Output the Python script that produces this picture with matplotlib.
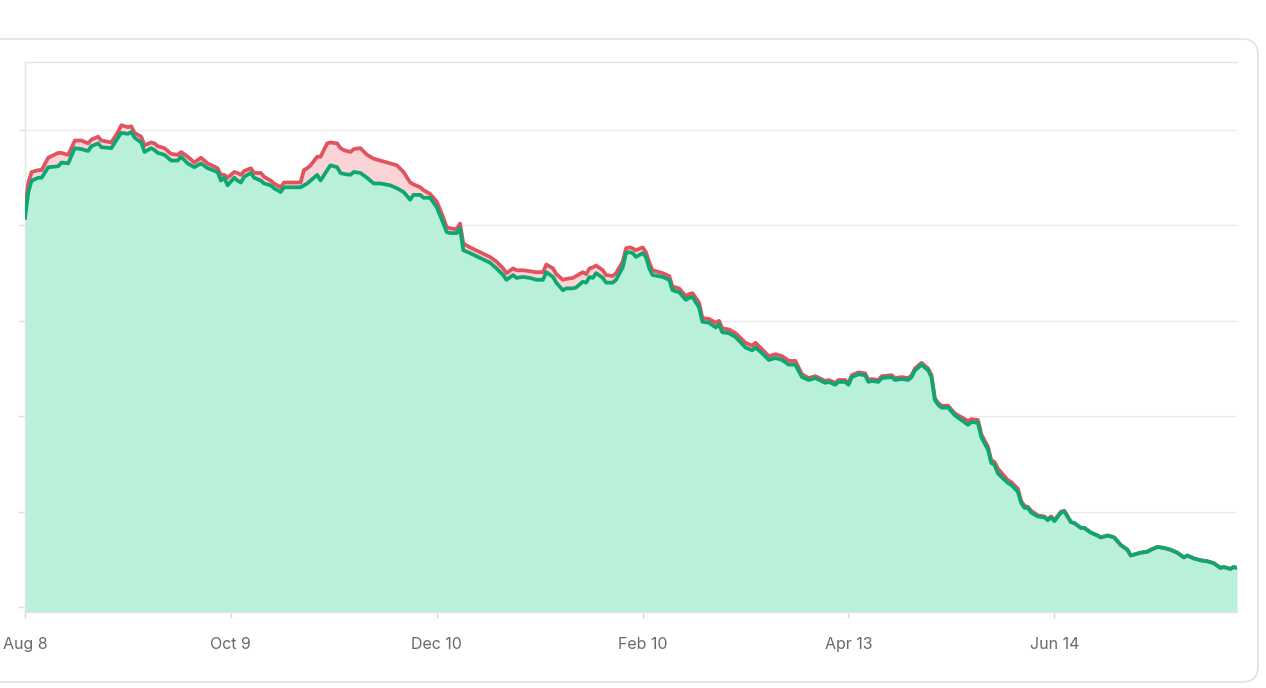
import numpy as np
import pandas as pd
import matplotlib
matplotlib.use("Agg")
import matplotlib.pyplot as plt
from matplotlib.patches import FancyBboxPatch
from matplotlib.transforms import IdentityTransform

plt.rcParams['font.family'] = ['Inter', 'DejaVu Sans']

# Datos (días desde el 8 de agosto)
start_date = "2022-08-08"
days = [0, 1, 2, 4, 5, 7, 10, 11, 13, 15, 17, 19, 20, 22, 23, 26, 28, 29, 31, 32,
        33, 35, 36, 38, 39, 40, 42, 44, 46, 47, 49, 51, 53, 55, 58, 59, 60, 61, 63, 64,
        65, 66, 68, 69, 71, 72, 74, 75, 77, 78, 80, 83, 84, 85, 86, 88, 89, 91, 92, 94,
        95, 96, 98, 99, 101, 103, 105, 107, 110, 112, 114, 116, 117, 119, 120, 122, 124, 126, 127, 128,
        130, 131, 132, 134, 137, 140, 142, 144, 145, 147, 148, 150, 152, 154, 156, 157, 159, 160, 162, 163,
        165, 166, 168, 169, 170, 171, 172, 174, 175, 177, 178, 180, 181, 182, 183, 184, 186, 187, 188, 189,
        192, 194, 195, 197, 199, 200, 201, 203, 204, 206, 208, 209, 210, 212, 214, 217, 219, 220, 222, 224,
        226, 228, 230, 232, 234, 236, 238, 241, 242, 244, 245, 247, 248, 249, 251, 253, 254, 255, 257, 258,
        261, 262, 264, 266, 267, 268, 270, 272, 273, 274, 275, 276, 278, 280, 282, 284, 285, 287, 288, 290,
        291, 292, 293, 296, 297, 299, 300, 301, 302, 303, 305, 307, 308, 309, 310, 312, 313, 315, 316, 318,
        319, 321, 323, 324, 326, 328, 330, 332, 333, 336, 338, 339, 341, 343, 345, 347, 349, 350, 352, 354,
        356, 358, 360, 361, 363, 364, 365]

green = [408, 435, 447, 450, 450, 461, 462, 466, 465, 481, 480, 478, 483, 486, 482, 481, 492, 497, 496, 498,
         492, 487, 477, 481, 479, 476, 474, 468, 468, 472, 465, 461, 465, 460, 456, 447, 450, 442, 450, 447,
         445, 451, 455, 450, 447, 444, 442, 439, 435, 440, 440, 440, 442, 444, 447, 453, 447, 458, 463, 461,
         455, 454, 453, 456, 455, 450, 444, 444, 442, 439, 435, 427, 432, 432, 429, 429, 419, 402, 393, 392,
         392, 397, 374, 371, 366, 361, 355, 348, 343, 348, 345, 346, 345, 343, 343, 351, 346, 340, 332, 334,
         334, 335, 341, 340, 346, 345, 350, 345, 340, 340, 343, 356, 371, 372, 371, 367, 371, 367, 355, 348,
         346, 343, 332, 330, 322, 324, 325, 314, 299, 298, 293, 296, 288, 287, 283, 272, 269, 272, 266, 259,
         261, 259, 254, 254, 241, 238, 240, 235, 236, 233, 236, 236, 233, 241, 244, 243, 236, 237, 236, 240,
         241, 238, 239, 238, 241, 248, 254, 248, 241, 217, 212, 209, 209, 201, 196, 191, 194, 193, 178, 165,
         151, 149, 140, 130, 128, 121, 109, 104, 104, 99, 95, 94, 91, 94, 90, 99, 100, 89, 88, 83,
         83, 78, 75, 73, 75, 73, 65, 60, 54, 57, 58, 60, 63, 62, 60, 57, 52, 54, 51, 49,
         48, 46, 41, 42, 40, 42, 41]

red = [416, 445, 456, 458, 458, 471, 476, 476, 474, 489, 489, 486, 490, 493, 489, 487, 498, 505, 503, 504,
       497, 493, 484, 487, 486, 483, 481, 475, 474, 477, 472, 466, 471, 465, 460, 453, 453, 450, 456, 455,
       453, 457, 460, 455, 455, 451, 447, 444, 440, 445, 445, 445, 458, 460, 463, 472, 472, 486, 487, 486,
       481, 479, 477, 480, 481, 474, 470, 468, 465, 463, 456, 445, 443, 440, 437, 433, 425, 408, 398, 397,
       396, 402, 381, 377, 372, 367, 362, 355, 350, 355, 353, 353, 352, 351, 351, 359, 355, 349, 343, 344,
       345, 347, 351, 349, 355, 356, 358, 353, 348, 347, 350, 362, 376, 377, 376, 374, 377, 372, 361, 353,
       350, 347, 336, 334, 326, 328, 329, 319, 303, 302, 298, 300, 292, 291, 287, 277, 274, 277, 270, 263,
       265, 263, 258, 258, 244, 240, 242, 237, 238, 235, 238, 238, 235, 243, 246, 245, 238, 239, 238, 242,
       243, 240, 241, 240, 243, 250, 256, 250, 243, 219, 214, 211, 211, 203, 199, 195, 197, 196, 181, 168,
       154, 152, 145, 133, 131, 124, 111, 106, 105, 101, 96, 95, 92, 95, 91, 100, 101, 89, 88, 83,
       83, 78, 75, 73, 75, 73, 65, 60, 54, 57, 58, 60, 63, 62, 60, 57, 52, 54, 51, 49,
       48, 46, 41, 42, 40, 42, 41]

tick_dates = ["2022-08-08", "2022-10-09", "2022-12-10", "2023-02-10", "2023-04-13", "2023-06-14"]
tick_labels = ["Aug 8", "Oct 9", "Dec 10", "Feb 10", "Apr 13", "Jun 14"]

fechas = pd.Timestamp(start_date) + pd.to_timedelta(days, unit="D")
green = np.array(green)
red = np.array(red)

y_min, y_max = -5.2, 571.3

fig = plt.figure(figsize=(12.66, 6.88), dpi=100)
fig.patch.set_facecolor("white")

# Tarjeta con bordes redondeados
card = FancyBboxPatch((-20, 6), 1278, 643, boxstyle="round,pad=0,rounding_size=16",
                      transform=IdentityTransform(), facecolor="white",
                      edgecolor="#e2e2e2", linewidth=1.2, zorder=0)
fig.add_artist(card)

ax = fig.add_axes([25 / 1266, 1 - 612 / 688, 1212 / 1266, 550 / 688])
ax.set_facecolor("none")

ax.fill_between(fechas, y_min, green, color="#b9f0d9", linewidth=0, zorder=2)
ax.fill_between(fechas, green, red, where=red >= green, color="#fcd3d6",
                linewidth=0, zorder=2, interpolate=True)
ax.plot(fechas, red, color="#e0535f", linewidth=2.7, zorder=3, solid_joinstyle="round")
ax.plot(fechas, green, color="#0ea771", linewidth=2.7, zorder=4, solid_joinstyle="round")

ax.set_xlim(pd.Timestamp(start_date), pd.Timestamp(start_date) + pd.Timedelta(days=365))
ax.set_ylim(y_min, y_max)

ax.set_yticks(np.arange(0, 501, 100))
ax.grid(axis="y", color="#ececec", linewidth=1, zorder=1)
ax.set_axisbelow(True)
ax.tick_params(axis="y", length=5, width=1, color="#e0e0e0", labelleft=False)

ax.set_xticks([pd.Timestamp(d) for d in tick_dates])
ax.set_xticklabels(tick_labels)
ax.tick_params(axis="x", length=4, width=1, color="#d8d8d8", pad=14,
               labelsize=11.5, labelcolor="#6a6a6a")

for lado in ["left", "bottom", "top"]:
    ax.spines[lado].set_color("#e4e4e4")
    ax.spines[lado].set_linewidth(1)
ax.spines["right"].set_visible(False)

fig.savefig("out.png", dpi=100)
